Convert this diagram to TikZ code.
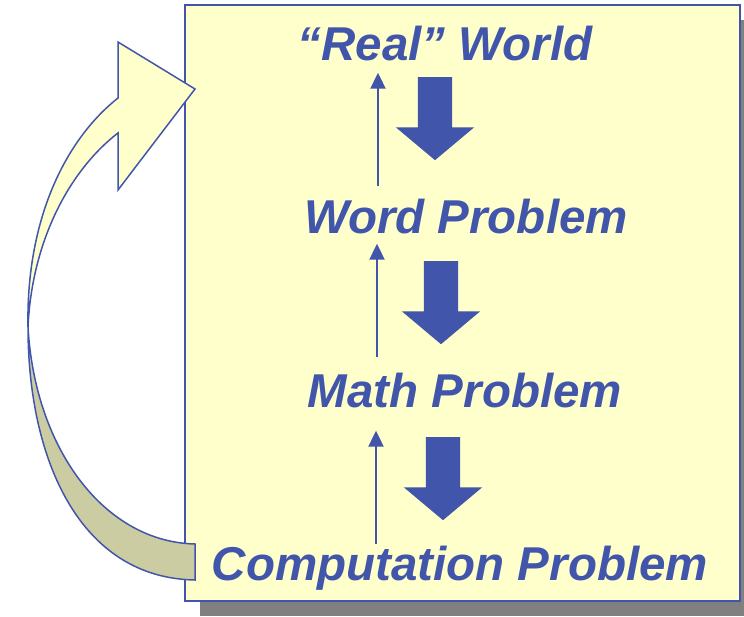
\documentclass[tikz,border=0pt]{standalone}
\usepackage{fontspec}
\usepackage{tikz}
\usetikzlibrary{shapes.arrows, arrows.meta, shadows, positioning}
\newfontfamily\arialfont{Liberation Sans}
\definecolor{mainblue}{HTML}{4156AA}
\definecolor{boxyellow}{HTML}{FFFFCC}
\definecolor{backkhaki}{HTML}{CCCCA2}
\definecolor{shadowgray}{HTML}{808080}

\begin{document}
\begin{tikzpicture}[x=1pt, y=-1pt,
    level/.style={inner sep=0pt, anchor=base, text=mainblue, font=\arialfont\bfseries\itshape\fontsize{47.5}{56}\selectfont},
    bigdown/.style={single arrow, fill=mainblue, draw=none, rotate=-90, anchor=tail, inner xsep=0pt, inner ysep=17pt, minimum height=83pt, single arrow head extend=22pt, single arrow tip angle=100},
    uparrow/.style={draw=mainblue, line width=2pt, -{Triangle[width=15pt, length=16pt]}},
    ribbon/.style={draw=mainblue, line width=1.5pt, line join=miter}]
    \useasboundingbox (0,0) rectangle (744,617);

    % Frame
    \node (frame) [rectangle, draw=mainblue, line width=2pt, fill=boxyellow, minimum width=555pt, minimum height=596pt, inner sep=0pt, drop shadow={shadow xshift=15pt, shadow yshift=-15pt, fill=shadowgray, opacity=1}] at (462.5,303) {};

    % Curved arrow
    \coordinate (twist) at (28,327);
    \draw [ribbon, fill=backkhaki] (195,544) .. controls (105,542) and (35,450) .. (twist) .. controls (28,460) and (80,578) .. (195,580) -- cycle;
    \draw [ribbon, fill=boxyellow] (twist) .. controls (26,220) and (65,140) .. (118,98) -- (118,42) -- (195,89) -- (118,190) -- (118,133) .. controls (70,170) and (32,240) .. (twist) -- cycle;

    % Nodes
    \node (real) [level] at (445,61) {“Real” World};
    \node (word) [level] at (466,234) {Word Problem};
    \node (math) [level] at (465,407) {Math Problem};
    \node (comp) [level] at (460,580) {Computation Problem};

    \node (down1) [bigdown] at (435,77) {};
    \node (down2) [bigdown] at (441,261) {};
    \node (down3) [bigdown] at (443,437) {};

    % Arrows
    \coordinate (lane1) at (378,0);
    \coordinate (lane2) at (377,0);
    \coordinate (lane3) at (376,0);
    \draw [uparrow, shorten <=13pt, shorten >=11pt] (word.north -| lane1) -- (real.south -| lane1);
    \draw [uparrow, shorten <=15pt, shorten >=9pt] (math.north -| lane2) -- (word.south -| lane2);
    \draw [uparrow, shorten <=1pt, shorten >=23pt] (comp.north -| lane3) -- (math.south -| lane3);
\end{tikzpicture}
\end{document}
